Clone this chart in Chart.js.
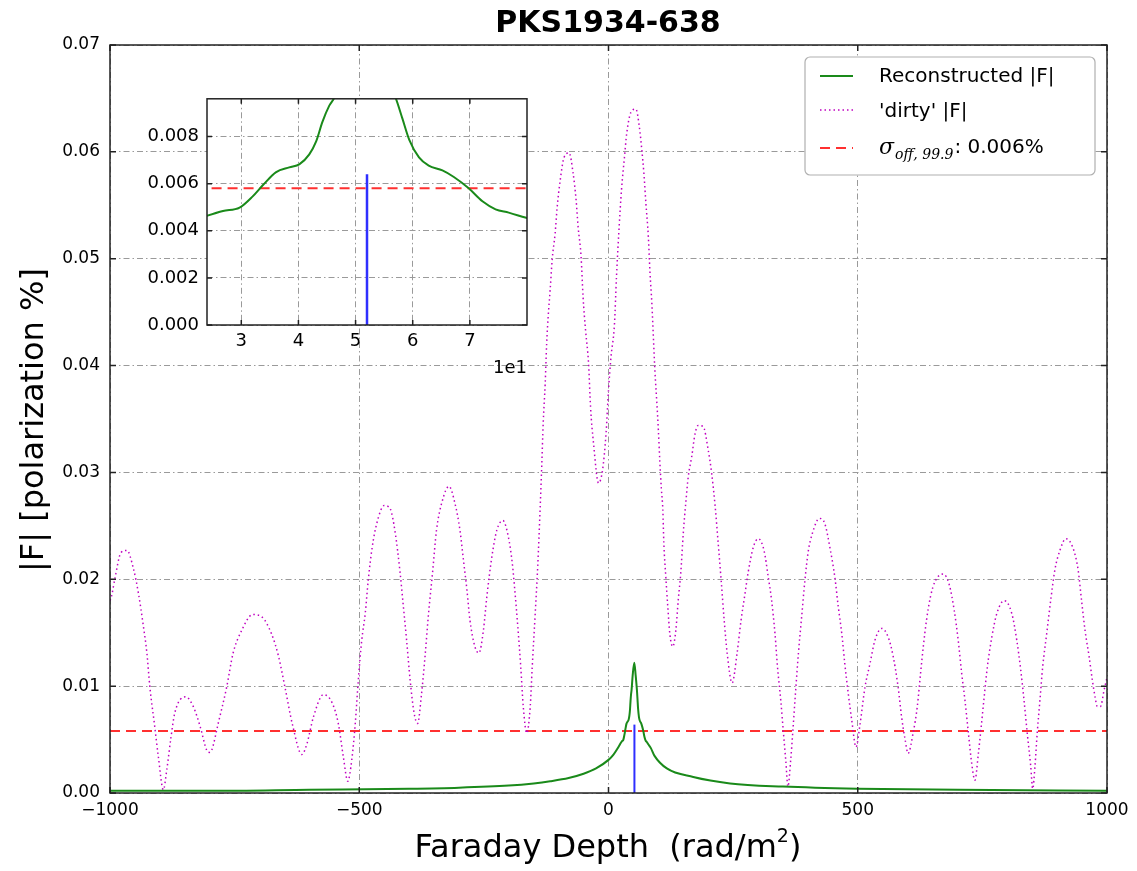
<!DOCTYPE html>
<html>
<head>
<meta charset="utf-8">
<script src="https://cdn.jsdelivr.net/npm/chart.js@4.4.1/dist/chart.umd.min.js"></script>
<style>
  html, body { margin: 0; padding: 0; background: #fff; }
  #wrap { position: relative; width: 1137px; height: 871px; }
  #main { position: absolute; left: 0; top: 0; }
  #inset { position: absolute; left: 130px; top: 80px; }
</style>
</head>
<body>
<div id="wrap">
  <canvas id="main" width="1137" height="871"></canvas>
  <canvas id="inset" width="410" height="300"></canvas>
</div>
<script>
// 'dirty' |F|
const dirtyPhi = [
  -1000, -997, -990, -978, -966, -953, -943, -933, -926, -920, -911, -903, -893, -886, -878, -870,
  -848, -833, -819, -806, -801, -796, -783, -766, -753, -736, -714, -696, -676, -662, -649, -634,
  -615, -605, -592, -572, -555, -542, -532, -523, -515, -508, -502, -495, -488, -482, -474, -465,
  -450, -438, -428, -418, -412, -405, -398, -390, -383, -375, -368, -361, -353, -345, -333, -320,
  -308, -298, -291, -284, -278, -268, -260, -251, -244, -234, -224, -212, -201, -193, -188, -182,
  -176, -171, -164, -157, -153, -147, -142, -137, -134, -131, -127, -124, -121, -117, -113, -107,
  -103, -97, -89, -79, -71, -65, -61, -55, -51, -46, -40, -36, -30, -20, -12, -5,
  0, 5, 12, 16, 21, 26, 32, 36.5, 45, 55, 62, 67, 71, 75, 80, 83,
  87, 90, 93, 97, 100, 103, 106, 109, 111, 115, 119, 123, 129, 135, 140, 145,
  150, 155.5, 160, 167, 173.5, 180, 190, 200, 207, 214, 220, 226, 232, 238, 248, 258,
  266, 274, 280, 290.5, 300.5, 312, 320.5, 327, 334, 339, 345.5, 351, 355.5, 360, 365.5, 369.5,
  375, 381, 387.5, 394, 401, 409, 423, 434, 444, 454, 461, 468, 474, 481, 488, 496.5,
  504.5, 514.5, 524.5, 534.5, 548, 561, 571, 581, 588, 595, 601, 611, 619.5, 626, 631.5, 638,
  646, 655, 671.5, 683.5, 693.5, 701.5, 708.5, 715, 722, 728.5, 735, 742, 747, 753, 760, 769,
  779, 794, 809, 819, 827, 833.5, 840, 847, 851, 855.5, 860, 865.5, 871, 879, 887, 895.5,
  905.5, 917.5, 932, 942, 949, 956, 964, 970.5, 976, 980.5, 987, 994, 1000
];
const dirtyAmp = [
  0.0180, 0.0184, 0.0201, 0.0225, 0.0227, 0.0210, 0.0187, 0.0156, 0.0131, 0.0099, 0.0065, 0.0034, 0.0003, 0.0022, 0.0051, 0.0075,
  0.0090, 0.0081, 0.0062, 0.0040, 0.0038, 0.0040, 0.0065, 0.0099, 0.0131, 0.0152, 0.0167, 0.0165, 0.0149, 0.0128, 0.0099, 0.0064,
  0.0036, 0.0046, 0.0071, 0.0092, 0.0085, 0.0065, 0.0034, 0.0011, 0.0031, 0.0065, 0.0105, 0.0143, 0.0168, 0.0199, 0.0230, 0.0252,
  0.0269, 0.0266, 0.0244, 0.0206, 0.0177, 0.0143, 0.0106, 0.0075, 0.0065, 0.0093, 0.0128, 0.0168, 0.0206, 0.0246, 0.0274, 0.0287,
  0.0271, 0.0246, 0.0218, 0.0190, 0.0162, 0.0137, 0.0131, 0.0152, 0.0184, 0.0221, 0.0246, 0.0255, 0.0240, 0.0215, 0.0190, 0.0156,
  0.0118, 0.0081, 0.0056, 0.0081, 0.0118, 0.0168, 0.0212, 0.0268, 0.0305, 0.0346, 0.0383, 0.0421, 0.0446, 0.0471, 0.0499, 0.0524,
  0.0548, 0.0573, 0.0595, 0.0599, 0.0580, 0.0555, 0.0530, 0.0502, 0.0464, 0.0433, 0.0402, 0.0361, 0.0327, 0.0290, 0.0302, 0.0336,
  0.0377, 0.0408, 0.0439, 0.0483, 0.0527, 0.0564, 0.0595, 0.0617, 0.0637, 0.0640, 0.0623, 0.0601, 0.0580, 0.0552, 0.0520, 0.0489,
  0.0458, 0.0427, 0.0396, 0.0365, 0.0340, 0.0310, 0.0285, 0.0265, 0.0234, 0.0202, 0.0174, 0.0149, 0.0137, 0.0152, 0.0181, 0.0206,
  0.0243, 0.0274, 0.0296, 0.0315, 0.0336, 0.0344, 0.0343, 0.0321, 0.0299, 0.0268, 0.0234, 0.0199, 0.0162, 0.0131, 0.0103, 0.0131,
  0.0162, 0.0187, 0.0206, 0.0230, 0.0238, 0.0227, 0.0202, 0.0181, 0.0149, 0.0118, 0.0087, 0.0056, 0.0031, 0.0006, 0.0031, 0.0056,
  0.0093, 0.0131, 0.0165, 0.0199, 0.0227, 0.0243, 0.0257, 0.0252, 0.0230, 0.0202, 0.0174, 0.0149, 0.0121, 0.0093, 0.0068, 0.0043,
  0.0064, 0.0099, 0.0121, 0.0143, 0.0154, 0.0146, 0.0128, 0.0099, 0.0071, 0.0050, 0.0037, 0.0056, 0.0081, 0.0112, 0.0137, 0.0162,
  0.0184, 0.0198, 0.0205, 0.0195, 0.0171, 0.0143, 0.0112, 0.0087, 0.0056, 0.0028, 0.0012, 0.0037, 0.0059, 0.0087, 0.0118, 0.0146,
  0.0168, 0.0180, 0.0168, 0.0143, 0.0115, 0.0087, 0.0056, 0.0025, 0.0004, 0.0025, 0.0056, 0.0087, 0.0118, 0.0149, 0.0180, 0.0209,
  0.0227, 0.0238, 0.0229, 0.0209, 0.0180, 0.0152, 0.0128, 0.0106, 0.0090, 0.0081, 0.0081, 0.0096, 0.0108
];

// reconstructed |F|
const reconPhi = [
  -1000, -800, -600, -400, -300, -200, -150, -117, -80, -50, -25, 0, 10, 20,
  23.9, 26.8, 29.7, 32, 33.8, 36.1, 38.4, 40.2, 41.9, 43.1, 44.2, 45.4, 46.3, 48.5, 51.7,
  54.5, 57, 58.2, 59.4, 61.1, 62.8, 65.2, 67.2, 69.8, 72.2, 74.5, 76.8, 79.7,
  85, 92, 117, 170, 244, 350, 500, 700, 1000
];
const reconAmp = [
  0.0002, 0.0002, 0.0003, 0.0004, 0.0005, 0.0007, 0.0009, 0.0011, 0.0014, 0.0018, 0.0023, 0.0031, 0.0036, 0.0043,
  0.00463, 0.00484, 0.00498, 0.00546, 0.00594, 0.00649, 0.00669, 0.00683, 0.00724, 0.00779, 0.00862, 0.00931, 0.00965, 0.0110, 0.0122,
  0.0110, 0.00965, 0.00876, 0.00786, 0.00711, 0.00676, 0.00656, 0.00628, 0.00580, 0.00525, 0.00491, 0.00477, 0.00456,
  0.0042, 0.0035, 0.0023, 0.0015, 0.0009, 0.0006, 0.0004, 0.0003, 0.0002
];

// threshold line and clean component
const sigmaPhi = [-1000, 1000];
const sigmaAmp = [0.0058, 0.0058];
const compPhi = [52, 52];
const compAmp = [0, 0.0064];

const xTicks = [-1000, -500, 0, 500, 1000];
const yTicks = [0, 0.01, 0.02, 0.03, 0.04, 0.05, 0.06, 0.07];
const insetXTicks = [30, 40, 50, 60, 70];
const insetYTicks = [0, 0.002, 0.004, 0.006, 0.008];

const pts = (xs, ys) => xs.map((v, i) => ({ x: v, y: ys[i] }));

const GREEN = "#1a8a1a", MAGENTA = "#c000c0", RED = "#ff3030", BLUE = "#2f2fff";
const FONT = "DejaVu Sans";

function frameAndTicks(chart, len) {
  const { ctx, chartArea: a, scales: { x, y } } = chart;
  ctx.save();
  ctx.strokeStyle = "#222";
  ctx.lineWidth = 1.5;
  ctx.beginPath();
  x.ticks.forEach(t => {
    const px = x.getPixelForValue(t.value);
    ctx.moveTo(px, a.bottom); ctx.lineTo(px, a.bottom - len);
    ctx.moveTo(px, a.top); ctx.lineTo(px, a.top + len);
  });
  y.ticks.forEach(t => {
    const py = y.getPixelForValue(t.value);
    ctx.moveTo(a.left, py); ctx.lineTo(a.left + len, py);
    ctx.moveTo(a.right, py); ctx.lineTo(a.right - len, py);
  });
  ctx.stroke();
  ctx.strokeRect(a.left, a.top, a.right - a.left, a.bottom - a.top);
  ctx.restore();
}

const gridOpts = { color: "#9a9a9a", lineWidth: 1, drawTicks: false };
const borderOpts = { display: false, dash: [6, 3, 1.5, 3] };

const mainDecor = {
  id: "mainDecor",
  afterDraw(chart) {
    frameAndTicks(chart, 6);
    const ctx = chart.ctx;
    ctx.save();
    ctx.fillStyle = "#000";
    ctx.textAlign = "center";
    ctx.textBaseline = "middle";
    ctx.font = "bold 30px " + FONT;
    ctx.fillText("PKS1934-638", 608, 24);

    // x label with superscript
    ctx.font = "32px " + FONT;
    const base = "Faraday Depth  (rad/m";
    const wBase = ctx.measureText(base).width;
    ctx.font = "19px " + FONT;
    const wSup = ctx.measureText("2").width;
    ctx.font = "32px " + FONT;
    const wEnd = ctx.measureText(")").width;
    let sx = 608 - (wBase + wSup + wEnd) / 2;
    ctx.textAlign = "left";
    ctx.fillText(base, sx, 849);
    ctx.font = "19px " + FONT;
    ctx.fillText("2", sx + wBase, 837);
    ctx.font = "32px " + FONT;
    ctx.fillText(")", sx + wBase + wSup, 849);

    // y label
    ctx.save();
    ctx.translate(35, 420);
    ctx.rotate(-Math.PI / 2);
    ctx.textAlign = "center";
    ctx.font = "32px " + FONT;
    ctx.fillText("|F| [polarization %]", 0, 0);
    ctx.restore();

    // legend
    const L = 805, T = 57, W = 290, H = 118;
    ctx.beginPath();
    ctx.roundRect(L, T, W, H, 5);
    ctx.fillStyle = "#fff";
    ctx.fill();
    ctx.strokeStyle = "#b0b0b0";
    ctx.lineWidth = 1.2;
    ctx.stroke();
    const sample = (yy, color, dash, w) => {
      ctx.save();
      ctx.strokeStyle = color; ctx.lineWidth = w; ctx.setLineDash(dash);
      ctx.beginPath(); ctx.moveTo(820, yy); ctx.lineTo(853, yy); ctx.stroke();
      ctx.restore();
    };
    sample(76, GREEN, [], 2);
    sample(110, MAGENTA, [1.5, 3], 1.5);
    sample(148, RED, [10, 6], 2);
    ctx.fillStyle = "#000";
    ctx.textAlign = "left";
    ctx.font = "20px " + FONT;
    ctx.fillText("Reconstructed |F|", 879, 77);
    ctx.fillText("'dirty' |F|", 879, 112);
    ctx.font = "italic 22px DejaVu Serif";
    ctx.fillText("\u03c3", 879, 148);
    let tx = 879 + ctx.measureText("\u03c3").width + 1;
    ctx.font = "italic 14px DejaVu Serif";
    ctx.fillText("off, 99.9", tx, 155);
    tx += ctx.measureText("off, 99.9").width + 1;
    ctx.font = "20px " + FONT;
    ctx.fillText(": 0.006%", tx, 148);
    ctx.restore();
  }
};

new Chart(document.getElementById("main"), {
  type: "line",
  data: {
    datasets: [
      { data: pts(reconPhi, reconAmp), borderColor: GREEN, borderWidth: 2, pointRadius: 0, cubicInterpolationMode: "monotone" },
      { data: pts(dirtyPhi, dirtyAmp), borderColor: MAGENTA, borderWidth: 1.5, borderDash: [1.5, 3], pointRadius: 0, cubicInterpolationMode: "monotone" },
      { data: pts(sigmaPhi, sigmaAmp), borderColor: RED, borderWidth: 2, borderDash: [10, 6], pointRadius: 0 },
      { data: pts(compPhi, compAmp), borderColor: BLUE, borderWidth: 2, pointRadius: 0 }
    ]
  },
  options: {
    responsive: false,
    animation: false,
    events: [],
    layout: { padding: { top: 45, right: 30, left: 0, bottom: 0 } },
    plugins: { legend: { display: false }, tooltip: { enabled: false } },
    scales: {
      x: {
        type: "linear", min: -1000, max: 1000,
        afterBuildTicks: s => { s.ticks = xTicks.map(v => ({ value: v })); },
        afterFit: s => { s.height = 78; },
        grid: gridOpts, border: borderOpts,
        ticks: { padding: 7, color: "#000", font: { family: FONT, size: 17 },
          callback: v => (v < 0 ? "\u2212" + Math.abs(v) : String(v)) }
      },
      y: {
        type: "linear", min: 0, max: 0.07,
        afterBuildTicks: s => { s.ticks = yTicks.map(v => ({ value: v })); },
        afterFit: s => { s.width = 110; },
        grid: gridOpts, border: borderOpts,
        ticks: { padding: 10, color: "#000", font: { family: FONT, size: 17 }, callback: v => v.toFixed(2) }
      }
    }
  },
  plugins: [mainDecor]
});

const insetDecor = {
  id: "insetDecor",
  beforeDraw(chart) {
    const { ctx, chartArea: a } = chart;
    ctx.save();
    ctx.fillStyle = "#fff";
    ctx.fillRect(a.left, a.top, a.right - a.left, a.bottom - a.top);
    ctx.restore();
  },
  afterDraw(chart) {
    frameAndTicks(chart, 5);
    const ctx = chart.ctx;
    ctx.save();
    ctx.fillStyle = "#000";
    ctx.font = "18px " + FONT;
    ctx.textAlign = "right";
    ctx.textBaseline = "middle";
    ctx.fillText("1e1", 397, 288);
    ctx.restore();
  }
};

new Chart(document.getElementById("inset"), {
  type: "line",
  data: {
    datasets: [
      { data: pts(reconPhi, reconAmp), borderColor: GREEN, borderWidth: 2, pointRadius: 0, cubicInterpolationMode: "monotone" },
      { data: pts(sigmaPhi, sigmaAmp), borderColor: RED, borderWidth: 2, borderDash: [10, 6], pointRadius: 0 },
      { data: pts(compPhi, compAmp), borderColor: BLUE, borderWidth: 2.5, pointRadius: 0 }
    ]
  },
  options: {
    responsive: false,
    animation: false,
    events: [],
    layout: { padding: { top: 12, right: 13, left: 0, bottom: 0 } },
    plugins: { legend: { display: false }, tooltip: { enabled: false } },
    scales: {
      x: {
        type: "linear", min: 24, max: 80,
        afterBuildTicks: s => { s.ticks = insetXTicks.map(v => ({ value: v })); },
        afterFit: s => { s.height = 55; },
        grid: gridOpts, border: borderOpts,
        ticks: { padding: 6, color: "#000", font: { family: FONT, size: 18 }, callback: v => String(v / 10) }
      },
      y: {
        type: "linear", min: 0, max: 0.0096,
        afterBuildTicks: s => { s.ticks = insetYTicks.map(v => ({ value: v })); },
        afterFit: s => { s.width = 77; },
        grid: gridOpts, border: borderOpts,
        ticks: { padding: 8, color: "#000", font: { family: FONT, size: 18 }, callback: v => v.toFixed(3) }
      }
    }
  },
  plugins: [insetDecor]
});
</script>
</body>
</html>
